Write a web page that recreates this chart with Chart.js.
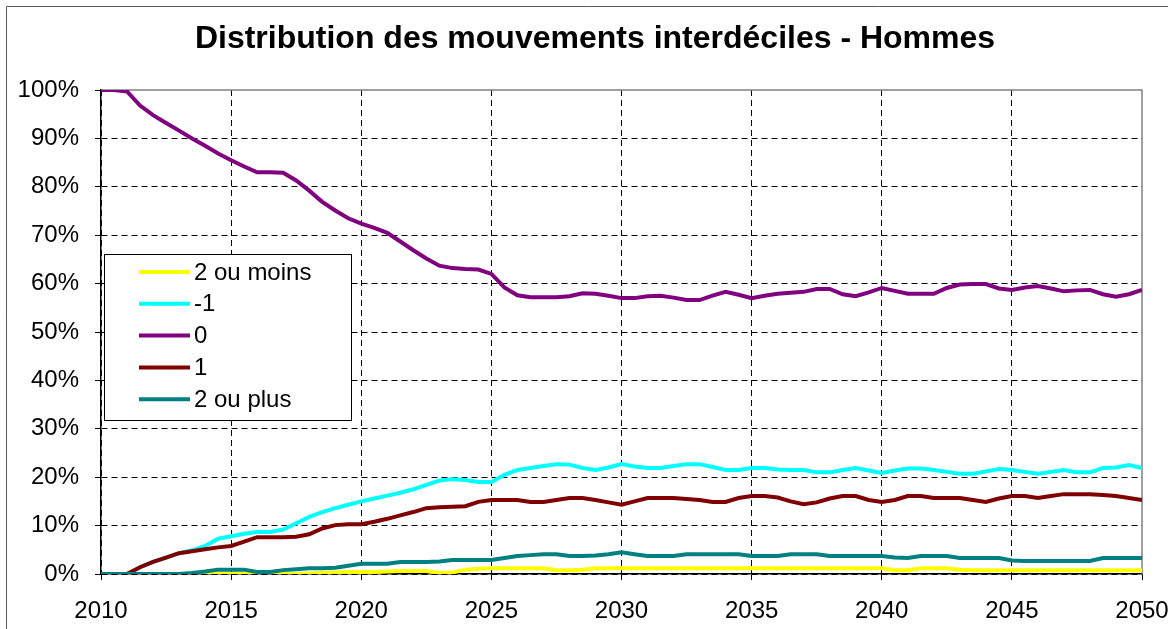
<!DOCTYPE html>
<html>
<head>
<meta charset="utf-8">
<title>Distribution des mouvements interdéciles - Hommes</title>
<script src="https://cdn.jsdelivr.net/npm/chart.js@4/dist/chart.umd.min.js"></script>
<style>
  html, body { margin: 0; padding: 0; background: #fff; }
  #wrap { width: 1168px; height: 629px; position: relative; }
</style>
</head>
<body>
<div id="wrap"><canvas id="mouvChart"></canvas></div>
<script>
// Années (pas d'un semestre)
const annees = [
  2010, 2010.5, 2011, 2011.5, 2012, 2012.5, 2013, 2013.5, 2014, 2014.5,
  2015, 2015.5, 2016, 2016.5, 2017, 2017.5, 2018, 2018.5, 2019, 2019.5,
  2020, 2020.5, 2021, 2021.5, 2022, 2022.5, 2023, 2023.5, 2024, 2024.5,
  2025, 2025.5, 2026, 2026.5, 2027, 2027.5, 2028, 2028.5, 2029, 2029.5,
  2030, 2030.5, 2031, 2031.5, 2032, 2032.5, 2033, 2033.5, 2034, 2034.5,
  2035, 2035.5, 2036, 2036.5, 2037, 2037.5, 2038, 2038.5, 2039, 2039.5,
  2040, 2040.5, 2041, 2041.5, 2042, 2042.5, 2043, 2043.5, 2044, 2044.5,
  2045, 2045.5, 2046, 2046.5, 2047, 2047.5, 2048, 2048.5, 2049, 2049.5,
  2050
];

const moinsDeux = [
  0, 0, 0, 0, 0, 0, 0, 0, 0, 0,
  0, 0, 0, 0, 0, 0, 0.1, 0.2, 0.3, 0.4,
  0.4, 0.4, 0.5, 0.6, 0.6, 0.6, 0.2, 0.3, 0.9, 1.1,
  1.2, 1.2, 1.2, 1.2, 1.2, 0.8, 0.8, 0.9, 1.2, 1.2,
  1.2, 1.2, 1.2, 1.2, 1.2, 1.2, 1.2, 1.2, 1.2, 1.2,
  1.2, 1.2, 1.2, 1.2, 1.2, 1.2, 1.2, 1.2, 1.2, 1.2,
  1.2, 0.8, 0.8, 1.2, 1.2, 1.2, 0.9, 0.8, 0.8, 0.8,
  0.8, 0.8, 0.8, 0.8, 0.8, 0.8, 0.8, 0.8, 0.8, 0.8,
  0.8
];

const moinsUn = [
  0, 0, 0, 1.4, 2.5, 3.4, 4.3, 4.9, 5.8, 7.3,
  7.8, 8.3, 8.7, 8.7, 9.2, 10.5, 11.8, 12.8, 13.6, 14.3,
  15.0, 15.6, 16.2, 16.8, 17.5, 18.4, 19.3, 19.6, 19.4, 19.0,
  19.0, 20.5, 21.5, 21.9, 22.3, 22.7, 22.6, 21.9, 21.5, 22.0,
  22.7, 22.2, 21.9, 21.9, 22.3, 22.7, 22.7, 22.1, 21.5, 21.5,
  21.9, 21.9, 21.6, 21.5, 21.5, 21.0, 21.0, 21.5, 21.9, 21.4,
  20.9, 21.4, 21.8, 21.8, 21.5, 21.1, 20.7, 20.7, 21.2, 21.7,
  21.5, 21.1, 20.7, 21.1, 21.5, 21.0, 21.0, 21.9, 22.0, 22.5,
  21.9
];

const zero = [
  100, 100, 99.7, 96.8, 94.8, 93.2, 91.6, 90.0, 88.5, 86.9,
  85.5, 84.2, 83.0, 83.0, 82.9, 81.3, 79.2, 76.9, 75.1, 73.5,
  72.4, 71.5, 70.5, 68.7, 66.9, 65.2, 63.7, 63.2, 63.0, 62.9,
  62.0, 59.2, 57.6, 57.2, 57.2, 57.2, 57.4, 58.0, 57.9, 57.5,
  57.0, 57.0, 57.4, 57.5, 57.1, 56.6, 56.6, 57.5, 58.3, 57.7,
  57.0, 57.5, 57.9, 58.1, 58.3, 58.9, 58.9, 57.8, 57.4, 58.2,
  59.1, 58.5, 57.9, 57.9, 57.9, 59.1, 59.8, 59.9, 59.9, 59.0,
  58.7, 59.2, 59.5, 59.0, 58.4, 58.6, 58.7, 57.8, 57.3, 57.8,
  58.7
];

const plusUn = [
  0, 0, 0, 1.4, 2.5, 3.4, 4.3, 4.7, 5.1, 5.5,
  5.8, 6.7, 7.6, 7.6, 7.6, 7.7, 8.2, 9.4, 10.1, 10.3,
  10.3, 10.8, 11.4, 12.1, 12.8, 13.6, 13.8, 13.9, 14.0, 14.9,
  15.3, 15.3, 15.3, 14.9, 14.9, 15.3, 15.7, 15.7, 15.3, 14.8,
  14.3, 15.0, 15.7, 15.7, 15.7, 15.5, 15.3, 14.9, 14.9, 15.7,
  16.1, 16.1, 15.8, 15.0, 14.4, 14.8, 15.6, 16.1, 16.1, 15.3,
  14.9, 15.3, 16.1, 16.1, 15.7, 15.7, 15.7, 15.3, 14.9, 15.6,
  16.1, 16.1, 15.7, 16.1, 16.5, 16.5, 16.5, 16.3, 16.1, 15.7,
  15.3
];

const plusDeux = [
  0, 0, 0, 0, 0, 0, 0, 0.2, 0.5, 0.9,
  0.9, 0.9, 0.4, 0.4, 0.8, 1.0, 1.2, 1.2, 1.3, 1.7,
  2.1, 2.1, 2.1, 2.5, 2.5, 2.5, 2.6, 2.9, 2.9, 2.9,
  2.9, 3.3, 3.7, 3.9, 4.1, 4.1, 3.7, 3.7, 3.8, 4.1,
  4.5, 4.1, 3.7, 3.7, 3.7, 4.1, 4.1, 4.1, 4.1, 4.1,
  3.7, 3.7, 3.7, 4.1, 4.1, 4.1, 3.7, 3.7, 3.7, 3.7,
  3.7, 3.4, 3.3, 3.7, 3.7, 3.7, 3.3, 3.3, 3.3, 3.3,
  2.8, 2.7, 2.7, 2.7, 2.7, 2.7, 2.7, 3.3, 3.3, 3.3,
  3.3
];

const series = ['2 ou moins', '-1', '0', '1', '2 ou plus'];
const couleurs = ['#ffff00', '#00ffff', '#800080', '#800000', '#008080'];
const valeurs = [moinsDeux, moinsUn, zero, plusUn, plusDeux];

const titre = 'Distribution des mouvements interdéciles - Hommes';
const police = "'Liberation Sans', Arial, sans-serif";

function points(vals) {
  return annees.map((a, i) => ({ x: a, y: vals[i] }));
}

// Fond blanc, cadre extérieur et titre
const fondPlugin = {
  id: 'fond',
  beforeDraw(chart) {
    const ctx = chart.ctx;
    ctx.save();
    ctx.fillStyle = '#fff';
    ctx.fillRect(0, 0, chart.width, chart.height);
    ctx.strokeStyle = '#5a5a5a';
    ctx.lineWidth = 1;
    ctx.beginPath();
    ctx.moveTo(6.5, chart.height + 5);
    ctx.lineTo(6.5, 6.5);
    ctx.lineTo(chart.width + 5, 6.5);
    ctx.stroke();
    // titre (centré comme dans le graphique d'origine)
    ctx.fillStyle = '#000';
    ctx.font = 'bold 32px ' + police;
    ctx.textAlign = 'center';
    ctx.textBaseline = 'alphabetic';
    ctx.fillText(titre, 595, 48);
    ctx.restore();
  },
  beforeDatasetsDraw(chart) {
    // bord haut et droit de la zone de tracé (gris)
    const a = chart.chartArea;
    const ctx = chart.ctx;
    ctx.save();
    ctx.strokeStyle = '#808080';
    ctx.lineWidth = 1.5;
    ctx.beginPath();
    ctx.moveTo(a.left, a.top);
    ctx.lineTo(a.right, a.top);
    ctx.lineTo(a.right, a.bottom);
    ctx.stroke();
    ctx.restore();
  }
};

// Légende encadrée dans la zone de tracé
const legendePlugin = {
  id: 'legendeBoite',
  afterDatasetsDraw(chart) {
    const a = chart.chartArea;
    const ctx = chart.ctx;
    const x0 = a.left + 3, y0 = a.top + 164, w = 247, h = 166;
    ctx.save();
    ctx.fillStyle = '#fff';
    ctx.fillRect(x0, y0, w, h);
    ctx.strokeStyle = '#000';
    ctx.lineWidth = 1;
    ctx.strokeRect(x0 + 0.5, y0 + 0.5, w, h);
    ctx.font = '24px ' + police;
    ctx.textBaseline = 'middle';
    ctx.fillStyle = '#000';
    chart.data.datasets.forEach((ds, i) => {
      const y = y0 + 18 + i * 31.8;
      ctx.strokeStyle = ds.borderColor;
      ctx.lineWidth = 4;
      ctx.beginPath();
      ctx.moveTo(x0 + 35, y);
      ctx.lineTo(x0 + 86, y);
      ctx.stroke();
      ctx.fillText(ds.label, x0 + 90, y + 1);
    });
    ctx.restore();
  }
};

const ctxMouv = document.getElementById('mouvChart').getContext('2d');
new Chart(ctxMouv, {
  type: 'line',
  data: {
    datasets: series.map((nom, i) => ({
      label: nom,
      data: points(valeurs[i]),
      borderColor: couleurs[i],
      backgroundColor: couleurs[i],
      borderWidth: 4,
      pointRadius: 0,
      tension: 0,
      fill: false,
      order: series.length - i
    }))
  },
  options: {
    responsive: true,
    maintainAspectRatio: false,
    animation: false,
    layout: {
      padding: { left: 0, right: 26, top: 90, bottom: 0 }
    },
    plugins: {
      legend: { display: false },
      tooltip: { enabled: false },
      title: { display: false }
    },
    scales: {
      x: {
        type: 'linear',
        min: 2010,
        max: 2050,
        afterFit(scale) {
          scale.height = 55;
          scale.paddingLeft = 0;
          scale.paddingRight = 0;
        },
        ticks: {
          stepSize: 5,
          color: '#000',
          padding: 17,
          maxRotation: 0,
          font: { family: police, size: 24 },
          callback: v => String(v)
        },
        grid: {
          color: c => (c.tick && c.tick.value === 2050) ? 'rgba(0,0,0,0)' : '#000',
          lineWidth: 1,
          tickColor: '#000',
          tickLength: 6
        },
        border: { color: '#000', width: 1.5, dash: [6, 4] }
      },
      y: {
        min: 0,
        max: 100,
        afterFit(scale) {
          scale.width = 101;
          scale.paddingTop = 0;
          scale.paddingBottom = 0;
        },
        ticks: {
          stepSize: 10,
          color: '#000',
          padding: 16,
          font: { family: police, size: 24 },
          callback: v => v + '%'
        },
        grid: {
          color: c => (c.tick && c.tick.value === 100) ? 'rgba(0,0,0,0)' : '#000',
          lineWidth: 1,
          tickColor: '#000',
          tickLength: 6
        },
        border: { color: '#000', width: 1.5, dash: [6, 4] }
      }
    }
  },
  plugins: [fondPlugin, legendePlugin]
});
</script>
</body>
</html>
